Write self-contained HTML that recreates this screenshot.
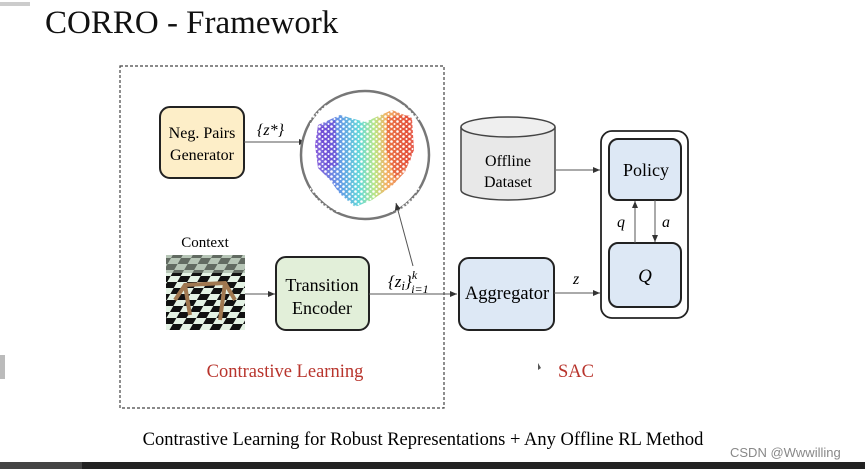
<!DOCTYPE html>
<html><head><meta charset="utf-8"><style>
html,body{margin:0;padding:0;background:#fff;width:865px;height:469px;overflow:hidden}
svg{display:block}
text{font-family:"Liberation Serif",serif}
</style></head><body>
<svg width="865" height="469" viewBox="0 0 865 469" xmlns="http://www.w3.org/2000/svg">
<defs>
<marker id="ar" markerWidth="8" markerHeight="8" refX="7" refY="4" orient="auto" markerUnits="userSpaceOnUse"><path d="M0,1 L7,4 L0,7 z" fill="#333"/></marker>
<linearGradient id="rb" x1="0" x2="1" y1="0" y2="0">
<stop offset="0" stop-color="#6a2fd0"/><stop offset="0.25" stop-color="#3d7fe0"/><stop offset="0.45" stop-color="#3fd0d0"/><stop offset="0.6" stop-color="#a8e06a"/><stop offset="0.72" stop-color="#f0a040"/><stop offset="1" stop-color="#e03020"/>
</linearGradient>
<pattern id="spk" width="6" height="5" patternUnits="userSpaceOnUse"><rect width="6" height="5" fill="#fff" opacity="0"/><circle cx="1.5" cy="1.5" r="1.3" fill="#fff"/><circle cx="4.5" cy="4" r="1" fill="#fff"/></pattern>
<pattern id="chk" width="20" height="20" patternUnits="userSpaceOnUse" patternTransform="skewX(-30) scale(1,0.6)"><rect width="20" height="20" fill="#e4f2e4"/><rect width="10" height="10" fill="#111"/><rect x="10" y="10" width="10" height="10" fill="#111"/></pattern>
</defs>
<text x="45" y="33" font-size="33" fill="#111">CORRO - Framework</text>
<rect x="120" y="66" width="324" height="342" fill="none" stroke="#444" stroke-width="1.2" stroke-dasharray="3,2"/>
<rect x="160" y="107" width="84" height="71" rx="10" fill="#fdeec8" stroke="#222" stroke-width="2"/>
<text x="202" y="138" font-size="16" text-anchor="middle">Neg. Pairs</text>
<text x="202" y="160" font-size="16" text-anchor="middle">Generator</text>
<line x1="244" y1="142" x2="306" y2="142" stroke="#555" marker-end="url(#ar)"/>
<text x="257" y="135" font-size="16" font-style="italic">{z*}</text>
<circle cx="365" cy="155" r="64" fill="#fff" stroke="#777" stroke-width="2.5"/>
<g>
<path d="M318,125 L340,115 L365,122 L392,110 L412,118 L414,150 L405,172 L392,186 L372,200 L355,207 L340,194 L330,180 L318,168 L315,145 z" fill="url(#rb)" opacity="0.8"/>
<path d="M320,128 L335,120 L338,165 L325,170 z" fill="#6a2fd0" opacity="0.5"/>
<path d="M387,117 L410,115 L411,160 L395,178 L386,150 z" fill="#e03020" opacity="0.45"/>
<path d="M310,105 L420,105 L420,212 L310,212 z" fill="url(#spk)"/>
</g>
<text x="205" y="247" font-size="15" text-anchor="middle">Context</text>
<rect x="166" y="255" width="79" height="75" fill="url(#chk)"/>
<rect x="166" y="255" width="79" height="18" fill="#9aa89a" opacity="0.6"/>
<path d="M175,300 L185,285 L225,283 L235,300 M185,285 L190,315 M225,283 L220,320" stroke="#a07850" stroke-width="4" fill="none"/>
<line x1="245" y1="294" x2="275" y2="294" stroke="#555" marker-end="url(#ar)"/>
<rect x="276" y="257" width="93" height="73" rx="10" fill="#e2efd9" stroke="#222" stroke-width="2"/>
<text x="322" y="291" font-size="18" text-anchor="middle">Transition</text>
<text x="322" y="314" font-size="18" text-anchor="middle">Encoder</text>
<line x1="369" y1="294" x2="457" y2="294" stroke="#555" marker-end="url(#ar)"/>
<text x="388" y="287" font-size="17" font-style="italic">{z<tspan font-size="13" dy="3">i</tspan><tspan dy="-3">}</tspan><tspan font-size="12" dy="-8">k</tspan><tspan font-size="12" dx="-6" dy="14">i=1</tspan></text>
<line x1="413" y1="266" x2="396" y2="203" stroke="#555" marker-end="url(#ar)"/>
<path d="M461,127 L461,190 A47,10 0 0 0 555,190 L555,127" fill="#e8e8e8" stroke="#444" stroke-width="1.5"/>
<ellipse cx="508" cy="127" rx="47" ry="10" fill="#efefef" stroke="#444" stroke-width="1.5"/>
<text x="508" y="166" font-size="16" text-anchor="middle">Offline</text>
<text x="508" y="187" font-size="16" text-anchor="middle">Dataset</text>
<line x1="556" y1="170" x2="600" y2="170" stroke="#555" marker-end="url(#ar)"/>
<rect x="459" y="258" width="95" height="72" rx="10" fill="#dde8f5" stroke="#222" stroke-width="2"/>
<text x="507" y="299" font-size="18.5" text-anchor="middle">Aggregator</text>
<line x1="554" y1="293" x2="600" y2="293" stroke="#555" marker-end="url(#ar)"/>
<text x="573" y="284" font-size="16" font-style="italic">z</text>
<rect x="601" y="131" width="87" height="187" rx="11" fill="#fff" stroke="#222" stroke-width="1.8"/>
<rect x="609" y="139" width="72" height="61" rx="9" fill="#dde8f5" stroke="#222" stroke-width="2"/>
<text x="646" y="176" font-size="18" text-anchor="middle">Policy</text>
<rect x="609" y="243" width="72" height="64" rx="9" fill="#dde8f5" stroke="#222" stroke-width="2"/>
<text x="645" y="282" font-size="19" font-style="italic" text-anchor="middle">Q</text>
<line x1="635" y1="243" x2="635" y2="201" stroke="#555" marker-end="url(#ar)"/>
<line x1="655" y1="200" x2="655" y2="242" stroke="#555" marker-end="url(#ar)"/>
<text x="617" y="227" font-size="16" font-style="italic">q</text>
<text x="662" y="227" font-size="16" font-style="italic">a</text>
<text x="285" y="377" font-size="18.5" fill="#b8342c" text-anchor="middle">Contrastive Learning</text>
<text x="576" y="377" font-size="18.5" fill="#b8342c" text-anchor="middle">SAC</text>
<path d="M538,363 L538,370 L541,368 z" fill="#555"/>
<text x="423" y="445" font-size="18.5" text-anchor="middle">Contrastive Learning for Robust Representations + Any Offline RL Method</text>
<text x="730" y="457" font-size="13" fill="#888" style="font-family:'Liberation Sans',sans-serif">CSDN @Wwwilling</text>
<rect x="0" y="355" width="5" height="24" fill="#bbb"/>
<rect x="0" y="462" width="865" height="7" fill="#222"/>
<rect x="0" y="462" width="82" height="7" fill="#444"/>
<rect x="0" y="2" width="30" height="4" fill="#ccc"/>
</svg>
</body></html>
